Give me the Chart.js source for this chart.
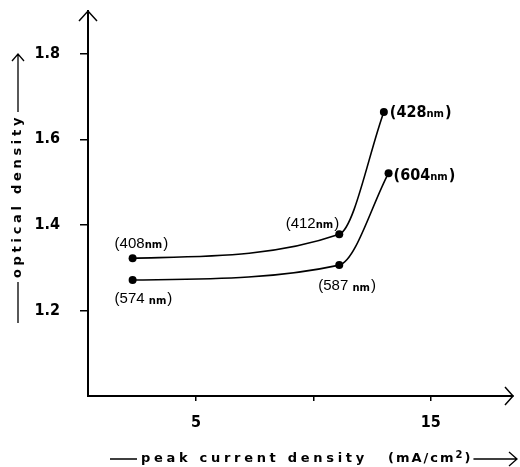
<!DOCTYPE html>
<html>
<head>
<meta charset="utf-8">
<script src="https://cdn.jsdelivr.net/npm/chart.js@4/dist/chart.umd.min.js"></script>
<style>
  html, body { margin: 0; padding: 0; background: #fff; }
</style>
</head>
<body>
<canvas id="grafico" width="520" height="467"></canvas>
<script>
// values
const currentUpper = [2.3, 11.1, 13.0];
const densityUpper = [1.322, 1.378, 1.664];
const waveUpper = ['408', '412', '428'];
const currentLower = [2.3, 11.1, 13.2];
const densityLower = [1.271, 1.306, 1.521];
const waveLower = ['574', '587', '604'];
const xTicks = [5, 10, 15];
const xTickLabels = ['5', '', '15'];
const yTicks = [1.2, 1.4, 1.6, 1.8];
const yTickLabels = ['1.2', '1.4', '1.6', '1.8'];

const narrow = "'Liberation Sans Narrow', 'DejaVu Sans Condensed', sans-serif";

// where each wavelength label sits next to its point
const labelPlace = [
  [{dx: -18, dy: -15, align: 'left', bold: false, space: false},
   {dx: 0, dy: -11, align: 'right', bold: false, space: false},
   {dx: 6, dy: 0, align: 'left', bold: true, space: false}],
  [{dx: -18, dy: 18, align: 'left', bold: false, space: true},
   {dx: -21, dy: 20, align: 'left', bold: false, space: true},
   {dx: 5, dy: 2, align: 'left', bold: true, space: false}]
];
const waves = [waveUpper, waveLower];

function drawLabel(ctx, x, y, num, p) {
  const numFont = p.bold ? 'bold 16px ' + narrow : '15px "Liberation Sans", sans-serif';
  const nmFont = 'bold 10px "DejaVu Sans", sans-serif';
  ctx.font = numFont;
  const w1 = ctx.measureText('(' + num + (p.space ? ' ' : '')).width;
  const w3 = ctx.measureText(')').width;
  ctx.font = nmFont;
  const w2 = ctx.measureText('nm').width + 1;
  const total = w1 + w2 + w3;
  let sx = p.align === 'right' ? x - total : x;
  ctx.textBaseline = 'alphabetic';
  ctx.textAlign = 'left';
  const base = y + 5;
  ctx.font = numFont;
  ctx.fillText('(' + num + (p.space ? ' ' : ''), sx, base);
  ctx.font = nmFont;
  ctx.fillText('nm', sx + w1, base + (p.space ? 1 : 0));
  ctx.font = numFont;
  ctx.fillText(')', sx + w1 + w2, base);
}

const extras = {
  id: 'extras',
  afterDraw(chart) {
    const ctx = chart.ctx;
    const a = chart.chartArea;
    ctx.save();
    ctx.fillStyle = '#000';
    ctx.strokeStyle = '#000';
    ctx.lineWidth = 1.5;

    // arrow heads on the axes
    ctx.beginPath();
    ctx.moveTo(a.left - 9, a.top + 10);
    ctx.lineTo(a.left, a.top);
    ctx.lineTo(a.left + 9, a.top + 10);
    ctx.moveTo(a.right - 8, a.bottom - 9);
    ctx.lineTo(a.right, a.bottom);
    ctx.lineTo(a.right - 8, a.bottom + 9);
    ctx.stroke();

    // wavelength labels
    chart.data.datasets.forEach((ds, di) => {
      chart.getDatasetMeta(di).data.forEach((pt, i) => {
        const p = labelPlace[di][i];
        drawLabel(ctx, pt.x + p.dx, pt.y + p.dy, waves[di][i], p);
      });
    });

    // axis titles
    const titleFont = 'bold 13px "DejaVu Sans", sans-serif';
    ctx.font = titleFont;
    ctx.letterSpacing = '3.7px';
    ctx.textBaseline = 'middle';
    ctx.textAlign = 'left';
    ctx.lineWidth = 1.3;

    // x title
    const ty = 459;
    ctx.fillText('peak current density', 141, ty);
    ctx.letterSpacing = '2px';
    let ux = 388;
    ctx.fillText('(mA/cm', ux, ty);
    ux += ctx.measureText('(mA/cm').width;
    ctx.font = 'bold 10px "DejaVu Sans", sans-serif';
    ctx.letterSpacing = '0px';
    ctx.fillText('2', ux, ty - 4);
    ux += ctx.measureText('2').width + 2;
    ctx.font = titleFont;
    ctx.fillText(')', ux, ty);
    ux += ctx.measureText(')').width + 3;
    ctx.beginPath();
    ctx.moveTo(110, ty); ctx.lineTo(137, ty);
    ctx.moveTo(ux, ty); ctx.lineTo(517, ty);
    ctx.moveTo(509, ty - 7); ctx.lineTo(517, ty); ctx.lineTo(509, ty + 7);
    ctx.stroke();

    // y title, rotated
    ctx.letterSpacing = '3.7px';
    ctx.translate(18, 0);
    ctx.rotate(-Math.PI / 2);
    // in rotated frame, x = -screenY
    const txt = 'optical density';
    const tw = ctx.measureText(txt).width;
    ctx.fillText(txt, -196 - tw / 2, 0);
    ctx.beginPath();
    ctx.moveTo(-323, 0); ctx.lineTo(-196 - tw / 2 - 4, 0);
    ctx.moveTo(-196 + tw / 2 + 2, 0); ctx.lineTo(-54, 0);
    ctx.moveTo(-61, -6); ctx.lineTo(-54, 0); ctx.lineTo(-61, 6);
    ctx.stroke();
    ctx.restore();
  }
};

const ctx = document.getElementById('grafico').getContext('2d');

const lineStyle = {
  borderColor: '#000',
  backgroundColor: '#000',
  borderWidth: 1.6,
  pointRadius: 4,
  pointBackgroundColor: '#000',
  pointBorderWidth: 0,
  cubicInterpolationMode: 'monotone',
  fill: false
};

const data = {
  datasets: [
    Object.assign({label: 'upper', data: currentUpper.map((x, i) => ({x, y: densityUpper[i]}))}, lineStyle),
    Object.assign({label: 'lower', data: currentLower.map((x, i) => ({x, y: densityLower[i]}))}, lineStyle)
  ]
};

const config = {
  type: 'line',
  data,
  options: {
    responsive: false,
    animation: false,
    layout: {padding: {top: 11, right: 7, left: 0, bottom: 0}},
    plugins: {legend: {display: false}, tooltip: {enabled: false}},
    scales: {
      x: {
        type: 'linear',
        min: 0.4,
        max: 18.5,
        afterBuildTicks: s => { s.ticks = xTicks.map(v => ({value: v})); },
        afterFit: s => { s.height = 71; s.paddingLeft = 0; s.paddingRight = 0; },
        ticks: {
          callback: (v) => xTickLabels[xTicks.indexOf(v)],
          color: '#000',
          padding: 12,
          font: {family: narrow, size: 16, weight: 'bold'}
        },
        grid: {drawOnChartArea: false, tickLength: 5, color: '#000', lineWidth: 1.5},
        border: {color: '#000', width: 2}
      },
      y: {
        min: 1.0,
        max: 1.9,
        afterBuildTicks: s => { s.ticks = yTicks.map(v => ({value: v})); },
        afterFit: s => { s.width = 88; s.paddingTop = 0; s.paddingBottom = 0; },
        ticks: {
          callback: (v) => yTickLabels[yTicks.indexOf(v)],
          color: '#000',
          padding: 20,
          font: {family: narrow, size: 16, weight: 'bold'}
        },
        grid: {drawOnChartArea: false, tickLength: 8, color: '#000', lineWidth: 1.5},
        border: {color: '#000', width: 2}
      }
    }
  },
  plugins: [extras]
};

const graph = new Chart(ctx, config);
</script>
</body>
</html>
